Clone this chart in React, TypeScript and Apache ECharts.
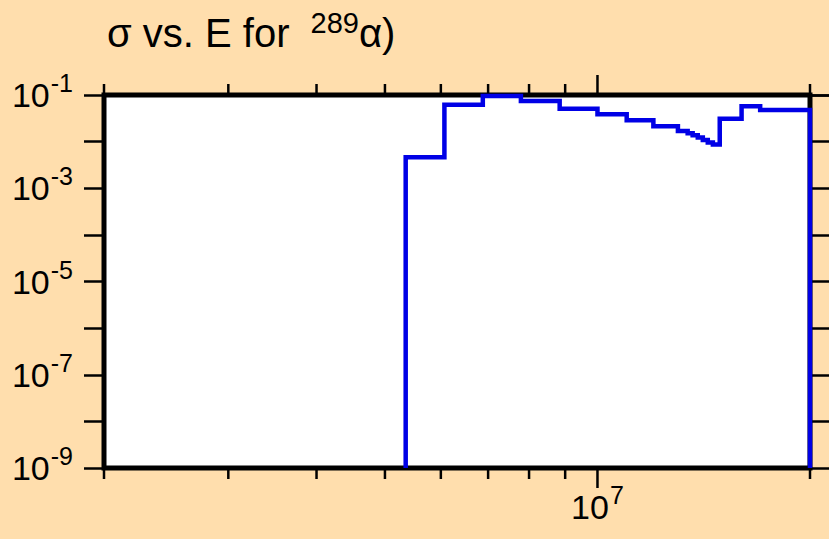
import React, { useEffect, useRef } from "react";
import * as echarts from "echarts";

// Histogram bin edges (eV) and cross-section values per bin
const binEdges = [
  5.35e6, 6.07e6, 6.88e6, 7.79e6, 8.84e6, 1.0e7, 1.1e7, 1.2e7, 1.3e7, 1.342e7,
  1.364e7, 1.387e7, 1.41e7, 1.433e7, 1.457e7, 1.49e7, 1.6e7, 1.7e7, 2.0e7,
];
const sigmaValues = [
  4.65e-3, 0.062, 0.095, 0.0744, 0.0509, 0.0386, 0.0288, 0.0214, 0.017, 0.01517,
  0.01374, 0.01222, 0.01089, 0.00955, 0.00865, 0.0311, 0.0573, 0.0478,
];
const xTickValues = [2e6, 3e6, 4e6, 5e6, 6e6, 7e6, 8e6, 9e6, 1e7, 2e7];
const X_MIN = 2e6;
const X_MAX = 2e7;
const Y_MIN = 1e-9;
const Y_MAX = 1e-1;

const FONT = "Liberation Sans";

function isPow10(v: number) {
  const l = Math.log10(v);
  return Math.abs(l - Math.round(l)) < 1e-6;
}

function expOf(v: number) {
  return Math.round(Math.log10(v));
}

const labelRich = {
  b: {
    fontSize: 34,
    fontFamily: FONT,
    fontWeight: "normal",
    color: "#000",
    lineHeight: 40,
    verticalAlign: "middle",
  },
  s: {
    fontSize: 25,
    fontFamily: FONT,
    fontWeight: "normal",
    color: "#000",
    lineHeight: 25,
    verticalAlign: "middle",
    padding: [0, 0, 24, 1],
  },
};

export default function App() {
  const ref = useRef<HTMLDivElement>(null);

  useEffect(() => {
    if (!ref.current) return;
    const chart = echarts.init(ref.current, null, { renderer: "svg" });

    const stepData: number[][] = [[binEdges[0], Y_MIN]];
    for (let i = 0; i < sigmaValues.length; i++) {
      stepData.push([binEdges[i], sigmaValues[i]]);
      stepData.push([binEdges[i + 1], sigmaValues[i]]);
    }
    stepData.push([binEdges[binEdges.length - 1], Y_MIN]);

    const yAxisCommon = {
      type: "log",
      logBase: 10,
      min: Y_MIN,
      max: Y_MAX,
      splitLine: { show: false },
      axisLine: { show: false },
      axisTick: {
        show: true,
        inside: false,
        length: 20,
        lineStyle: { color: "#000", width: 2.5 },
      },
    };

    chart.setOption({
      animation: false,
      backgroundColor: "#FFDEAD",
      title: {
        text: "{b|σ vs. E for }{s|289}{b|α)}",
        left: 107,
        top: 11,
        padding: 0,
        textStyle: {
          fontSize: 40,
          fontWeight: "normal",
          fontFamily: FONT,
          color: "#000",
          rich: {
            b: {
              fontSize: 40,
              fontWeight: "normal",
              fontFamily: FONT,
              color: "#000",
              lineHeight: 44,
              verticalAlign: "middle",
            },
            s: {
              fontSize: 29,
              fontWeight: "normal",
              fontFamily: FONT,
              color: "#000",
              lineHeight: 29,
              verticalAlign: "middle",
              padding: [0, 0, 21, 10],
            },
          },
        },
      },
      grid: {
        left: 104,
        top: 95,
        width: 706,
        height: 373,
        show: true,
        backgroundColor: "#fff",
        borderColor: "#000",
        borderWidth: 5,
        containLabel: false,
      },
      xAxis: {
        type: "log",
        logBase: 10,
        min: X_MIN,
        max: X_MAX,
        splitLine: { show: false },
        axisLine: { show: false },
        axisTick: { show: false },
        axisLabel: {
          interval: 0,
          margin: 19,
          formatter: (v: number) => (isPow10(v) ? `{b|10}{s|${expOf(v)}}` : ""),
          rich: labelRich,
        },
      },
      yAxis: [
        {
          ...yAxisCommon,
          position: "left",
          axisLabel: {
            margin: 31,
            formatter: (v: number) => {
              const e = expOf(v);
              return Math.abs(e) % 2 === 1 ? `{b|10}{s|${e}}` : "";
            },
            rich: labelRich,
          },
        },
        {
          ...yAxisCommon,
          position: "right",
          axisLabel: { show: false },
        },
      ],
      series: [
        {
          type: "line",
          data: stepData,
          showSymbol: false,
          symbol: "none",
          lineStyle: { color: "#0000E6", width: 4.5, join: "miter", cap: "butt" },
          clip: false,
          z: 5,
        },
        {
          type: "custom",
          coordinateSystem: "cartesian2d",
          data: xTickValues.map((v) => [v, Y_MIN]),
          clip: false,
          silent: true,
          z: 4,
          renderItem: (_params: any, api: any) => {
            const v = api.value(0);
            const bot = api.coord([v, Y_MIN]);
            const top = api.coord([v, Y_MAX]);
            const len = isPow10(v) ? 20 : 11;
            const style = { stroke: "#000", lineWidth: 2.5 };
            return {
              type: "group",
              children: [
                {
                  type: "line",
                  shape: { x1: bot[0], y1: bot[1], x2: bot[0], y2: bot[1] + len },
                  style,
                },
                {
                  type: "line",
                  shape: { x1: top[0], y1: top[1], x2: top[0], y2: top[1] - len },
                  style,
                },
              ],
            };
          },
        },
      ],
    });

    return () => chart.dispose();
  }, []);

  return <div ref={ref} style={{ width: 829, height: 539, position: "absolute", left: 0, top: 0 }} />;
}
